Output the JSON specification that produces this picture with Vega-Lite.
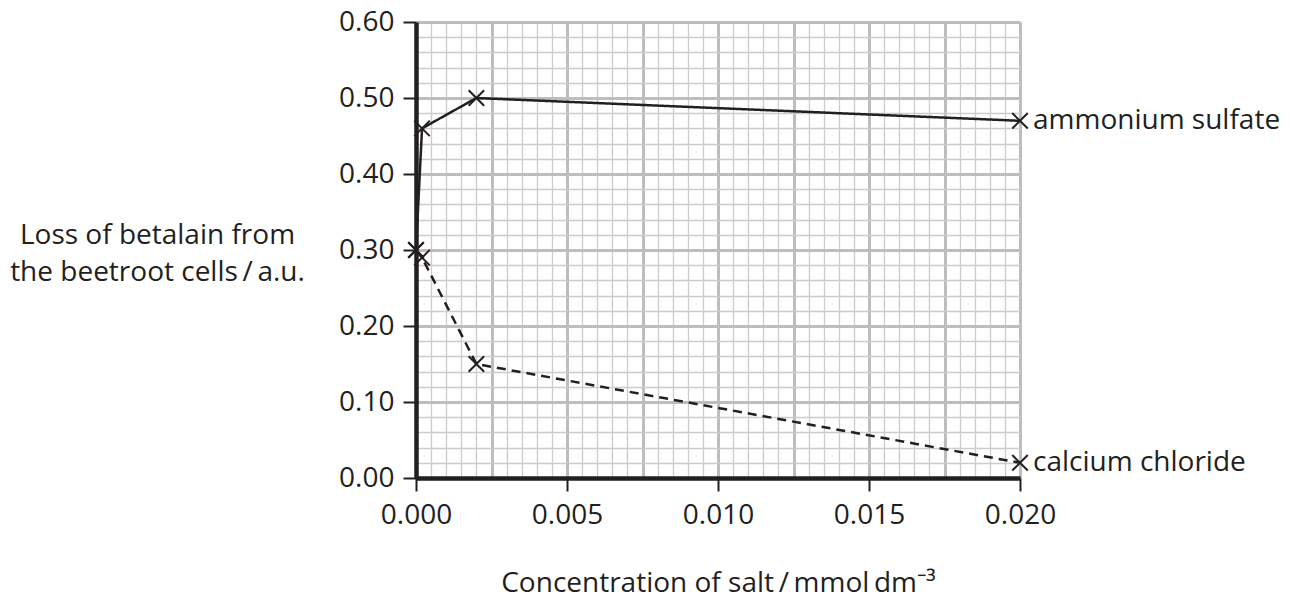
{
  "$schema": "https://vega.github.io/schema/vega-lite/v6.json",
  "autosize": {"type": "none"},
  "padding": {"left": 416, "top": 22, "right": 288, "bottom": 121},
  "width": 604,
  "height": 456,
  "background": "white",
  "config": {
    "view": {"stroke": null},
    "font": "Open Sans",
    "axis": {"labelFont": "Open Sans", "titleFont": "Open Sans", "labelFontSize": 28, "titleFontSize": 28, "titleFontWeight": "normal", "labelColor": "#231f20", "titleColor": "#231f20"}
  },
  "data": {
    "values": [
      {"series": "ammonium sulfate", "conc": 0.0, "loss": 0.30},
      {"series": "ammonium sulfate", "conc": 0.0002, "loss": 0.46},
      {"series": "ammonium sulfate", "conc": 0.002, "loss": 0.50},
      {"series": "ammonium sulfate", "conc": 0.02, "loss": 0.47},
      {"series": "calcium chloride", "conc": 0.0, "loss": 0.30},
      {"series": "calcium chloride", "conc": 0.0002, "loss": 0.29},
      {"series": "calcium chloride", "conc": 0.002, "loss": 0.15},
      {"series": "calcium chloride", "conc": 0.02, "loss": 0.02}
    ]
  },
  "layer": [
    {
      "mark": {"type": "line", "color": "#231f20", "strokeWidth": 2.5},
      "encoding": {
        "x": {
          "field": "conc", "type": "quantitative",
          "scale": {"domain": [0, 0.02], "nice": false, "zero": false},
          "axis": {
            "values": [0, 0.0005, 0.001, 0.0015, 0.002, 0.0025, 0.003, 0.0035, 0.004, 0.0045, 0.005, 0.0055, 0.006, 0.0065, 0.007, 0.0075, 0.008, 0.0085, 0.009, 0.0095, 0.01, 0.0105, 0.011, 0.0115, 0.012, 0.0125, 0.013, 0.0135, 0.014, 0.0145, 0.015, 0.0155, 0.016, 0.0165, 0.017, 0.0175, 0.018, 0.0185, 0.019, 0.0195, 0.02],
            "tickCount": 200,
            "labelExpr": "round(datum.value*10000) % 50 == 0 ? format(datum.value, '.3f') : ''",
            "labelOverlap": false,
            "labelFlush": false,
            "labelBound": false,
            "labelPadding": 10,
            "grid": true,
            "gridColor": {"condition": {"test": "round(datum.value*10000) % 25 == 0", "value": "#bdbdbd"}, "value": "#cccccc"},
            "gridWidth": {"condition": {"test": "round(datum.value*10000) % 25 == 0", "value": 3}, "value": 1.3},
            "tickColor": {"condition": {"test": "round(datum.value*10000) % 50 == 0", "value": "#231f20"}, "value": "transparent"},
            "tickSize": 13,
            "tickWidth": 2,
            "domainColor": "#231f20",
            "domainWidth": 4.5,
            "title": "Concentration of salt\u2009/\u2009mmol\u2009dm\u207b\u00b3",
            "titleX": 302,
            "titleY": 105,
            "titleAlign": "center",
            "titleBaseline": "middle"
          }
        },
        "y": {
          "field": "loss", "type": "quantitative",
          "scale": {"domain": [0, 0.6], "nice": false, "zero": false},
          "axis": {
            "values": [0, 0.02, 0.04, 0.06, 0.08, 0.1, 0.12, 0.14, 0.16, 0.18, 0.2, 0.22, 0.24, 0.26, 0.28, 0.3, 0.32, 0.34, 0.36, 0.38, 0.4, 0.42, 0.44, 0.46, 0.48, 0.5, 0.52, 0.54, 0.56, 0.58, 0.6],
            "tickCount": 200,
            "labelExpr": "round(datum.value*100) % 10 == 0 ? format(datum.value, '.2f') : ''",
            "labelOverlap": false,
            "labelFlush": false,
            "labelBound": false,
            "labelPadding": 9,
            "grid": true,
            "gridColor": {"condition": {"test": "round(datum.value*100) % 10 == 0", "value": "#bdbdbd"}, "value": "#cccccc"},
            "gridWidth": {"condition": {"test": "round(datum.value*100) % 10 == 0", "value": 3}, "value": 1.3},
            "tickColor": {"condition": {"test": "round(datum.value*100) % 10 == 0", "value": "#231f20"}, "value": "transparent"},
            "tickSize": 13,
            "tickWidth": 2,
            "domainColor": "#231f20",
            "domainWidth": 4.5,
            "title": ["Loss of betalain from", "the beetroot cells\u2009/\u2009a.u."],
            "titleAngle": 0,
            "titleX": -259,
            "titleY": 213,
            "titleAlign": "center",
            "titleBaseline": "middle",
            "titleLineHeight": 37
          }
        },
        "detail": {"field": "series"},
        "strokeDash": {
          "field": "series", "type": "nominal",
          "scale": {"domain": ["ammonium sulfate", "calcium chloride"], "range": [[1, 0], [9, 6]]},
          "legend": null
        }
      }
    },
    {
      "mark": {"type": "point", "shape": "M-1,-1L1,1M-1,1L1,-1", "size": 240, "filled": false, "stroke": "#231f20", "strokeWidth": 2, "opacity": 1},
      "encoding": {
        "x": {"field": "conc", "type": "quantitative"},
        "y": {"field": "loss", "type": "quantitative"}
      }
    },
    {
      "transform": [{"filter": "datum.conc == 0.02"}],
      "mark": {"type": "text", "align": "left", "baseline": "middle", "dx": 13, "font": "Open Sans", "fontSize": 28, "color": "#231f20"},
      "encoding": {
        "x": {"field": "conc", "type": "quantitative"},
        "y": {"field": "loss", "type": "quantitative"},
        "text": {"field": "series"}
      }
    }
  ]
}
